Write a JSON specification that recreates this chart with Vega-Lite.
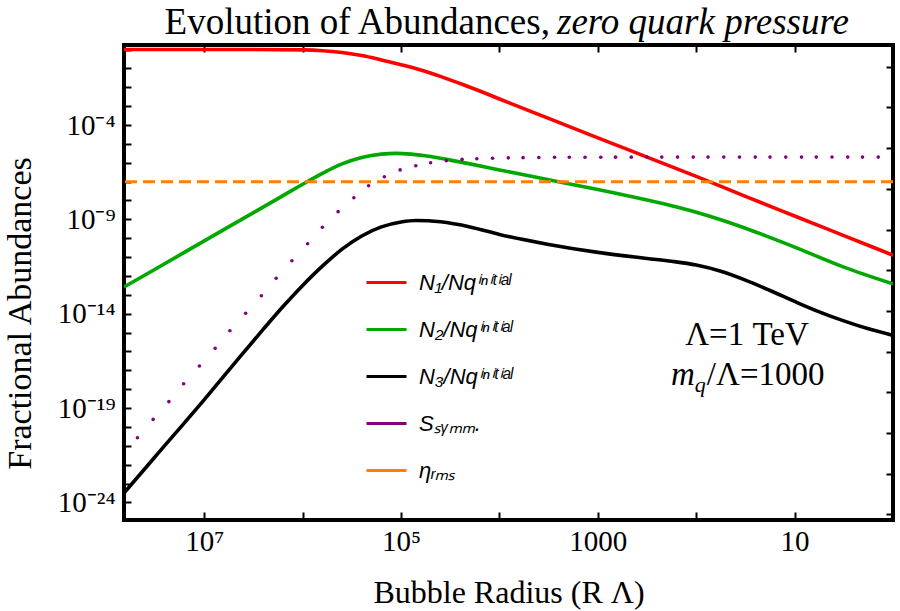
{
  "$schema": "https://vega.github.io/schema/vega-lite/v6.json",
  "width": 769,
  "height": 475,
  "autosize": {"type": "none"},
  "padding": {"left": 124, "top": 45, "right": 7, "bottom": 91},
  "background": "white",
  "config": {
    "view": {"stroke": "black", "strokeWidth": 4},
    "font": "Liberation Serif",
    "axis": {
      "grid": false,
      "domain": false,
      "tickColor": "black",
      "tickWidth": 2,
      "labelFont": "Liberation Serif",
      "labelColor": "black",
      "titleFont": "Liberation Serif",
      "titleColor": "black",
      "titleFontWeight": "normal",
      "labelOverlap": false,
      "labelFlush": false
    }
  },
  "datasets": {
    "lines": [
      {"s": "N1", "R": 6.55e7, "v": 1},
      {"s": "N1", "R": 1e7, "v": 1},
      {"s": "N1", "R": 3.162e6, "v": 0.999},
      {"s": "N1", "R": 1e6, "v": 0.955},
      {"s": "N1", "R": 6.31e5, "v": 0.871},
      {"s": "N1", "R": 3.981e5, "v": 0.692},
      {"s": "N1", "R": 2.512e5, "v": 0.479},
      {"s": "N1", "R": 1.585e5, "v": 0.282},
      {"s": "N1", "R": 1e5, "v": 0.158},
      {"s": "N1", "R": 6.31e4, "v": 0.0832},
      {"s": "N1", "R": 3.981e4, "v": 0.038},
      {"s": "N1", "R": 2.512e4, "v": 0.0158},
      {"s": "N1", "R": 1.585e4, "v": 0.00631},
      {"s": "N1", "R": 1e4, "v": 0.0024},
      {"s": "N1", "R": 3162, "v": 2.24e-4},
      {"s": "N1", "R": 1000, "v": 2.09e-5},
      {"s": "N1", "R": 316.2, "v": 2.0e-6},
      {"s": "N1", "R": 100, "v": 1.91e-7},
      {"s": "N1", "R": 31.62, "v": 1.66e-8},
      {"s": "N1", "R": 10, "v": 1.51e-9},
      {"s": "N1", "R": 3.162, "v": 1.38e-10},
      {"s": "N1", "R": 1, "v": 1.26e-11},
      {"s": "N2", "R": 6.55e7, "v": 2.6e-13},
      {"s": "N2", "R": 3.162e7, "v": 2.29e-12},
      {"s": "N2", "R": 1e7, "v": 7.24e-11},
      {"s": "N2", "R": 3.162e6, "v": 2.29e-9},
      {"s": "N2", "R": 1.585e6, "v": 1.82e-8},
      {"s": "N2", "R": 1e6, "v": 7.24e-8},
      {"s": "N2", "R": 6.31e5, "v": 2.75e-7},
      {"s": "N2", "R": 3.981e5, "v": 8.71e-7},
      {"s": "N2", "R": 2.512e5, "v": 1.91e-6},
      {"s": "N2", "R": 1.585e5, "v": 2.88e-6},
      {"s": "N2", "R": 1.122e5, "v": 3.16e-6},
      {"s": "N2", "R": 7.943e4, "v": 2.88e-6},
      {"s": "N2", "R": 5.012e4, "v": 2.14e-6},
      {"s": "N2", "R": 3.162e4, "v": 1.38e-6},
      {"s": "N2", "R": 1.995e4, "v": 8.71e-7},
      {"s": "N2", "R": 1e4, "v": 4.17e-7},
      {"s": "N2", "R": 3162, "v": 1.26e-7},
      {"s": "N2", "R": 1000, "v": 3.8e-8},
      {"s": "N2", "R": 316.2, "v": 1.05e-8},
      {"s": "N2", "R": 177.8, "v": 5.25e-9},
      {"s": "N2", "R": 100, "v": 2.4e-9},
      {"s": "N2", "R": 56.23, "v": 9.55e-10},
      {"s": "N2", "R": 31.62, "v": 3.39e-10},
      {"s": "N2", "R": 10, "v": 3.39e-11},
      {"s": "N2", "R": 3.162, "v": 2.95e-12},
      {"s": "N2", "R": 1, "v": 3.8e-13},
      {"s": "N3", "R": 6.55e7, "v": 3.16e-24},
      {"s": "N3", "R": 3.162e7, "v": 2.63e-22},
      {"s": "N3", "R": 1e7, "v": 2.82e-19},
      {"s": "N3", "R": 3.981e6, "v": 8.91e-17},
      {"s": "N3", "R": 2.512e6, "v": 1.51e-15},
      {"s": "N3", "R": 1.585e6, "v": 2.4e-14},
      {"s": "N3", "R": 1e6, "v": 3.16e-13},
      {"s": "N3", "R": 6.31e5, "v": 3.31e-12},
      {"s": "N3", "R": 3.981e5, "v": 2.63e-11},
      {"s": "N3", "R": 2.512e5, "v": 1.32e-10},
      {"s": "N3", "R": 1.585e5, "v": 3.98e-10},
      {"s": "N3", "R": 1e5, "v": 7.24e-10},
      {"s": "N3", "R": 7.079e4, "v": 8.71e-10},
      {"s": "N3", "R": 3.981e4, "v": 7.41e-10},
      {"s": "N3", "R": 1.995e4, "v": 3.98e-10},
      {"s": "N3", "R": 1e4, "v": 1.58e-10},
      {"s": "N3", "R": 3162, "v": 4.68e-11},
      {"s": "N3", "R": 1000, "v": 1.78e-11},
      {"s": "N3", "R": 316.2, "v": 8.51e-12},
      {"s": "N3", "R": 177.8, "v": 6.03e-12},
      {"s": "N3", "R": 100, "v": 3.8e-12},
      {"s": "N3", "R": 56.23, "v": 1.78e-12},
      {"s": "N3", "R": 31.62, "v": 6.03e-13},
      {"s": "N3", "R": 17.78, "v": 1.7e-13},
      {"s": "N3", "R": 10, "v": 4.47e-14},
      {"s": "N3", "R": 5.623, "v": 1.26e-14},
      {"s": "N3", "R": 3.162, "v": 4.17e-15},
      {"s": "N3", "R": 1.778, "v": 1.58e-15},
      {"s": "N3", "R": 1, "v": 7.08e-16}
    ],
    "dots": [
      {"s": "S", "R": 4.786e7, "v": 2.69e-21},
      {"s": "S", "R": 3.311e7, "v": 2.51e-20},
      {"s": "S", "R": 2.291e7, "v": 2.19e-19},
      {"s": "S", "R": 1.622e7, "v": 1.95e-18},
      {"s": "S", "R": 1.122e7, "v": 1.7e-17},
      {"s": "S", "R": 7.762e6, "v": 1.48e-16},
      {"s": "S", "R": 5.495e6, "v": 1.26e-15},
      {"s": "S", "R": 3.802e6, "v": 1.05e-14},
      {"s": "S", "R": 2.63e6, "v": 8.91e-14},
      {"s": "S", "R": 1.862e6, "v": 7.59e-13},
      {"s": "S", "R": 1.288e6, "v": 6.46e-12},
      {"s": "S", "R": 8.913e5, "v": 5.13e-11},
      {"s": "S", "R": 6.31e5, "v": 3.8e-10},
      {"s": "S", "R": 4.365e5, "v": 2.57e-9},
      {"s": "S", "R": 3.02e5, "v": 1.41e-8},
      {"s": "S", "R": 2.138e5, "v": 6.03e-8},
      {"s": "S", "R": 1.479e5, "v": 1.82e-7},
      {"s": "S", "R": 1.023e5, "v": 4.17e-7},
      {"s": "S", "R": 7.079e4, "v": 6.92e-7},
      {"s": "S", "R": 5.012e4, "v": 1.0e-6},
      {"s": "S", "R": 3.467e4, "v": 1.29e-6},
      {"s": "S", "R": 2.399e4, "v": 1.51e-6},
      {"s": "S", "R": 1.698e4, "v": 1.62e-6},
      {"s": "S", "R": 1.175e4, "v": 1.74e-6},
      {"s": "S", "R": 8128, "v": 1.82e-6},
      {"s": "S", "R": 5754, "v": 1.86e-6},
      {"s": "S", "R": 3981, "v": 1.91e-6},
      {"s": "S", "R": 2754, "v": 1.95e-6},
      {"s": "S", "R": 1950, "v": 1.95e-6},
      {"s": "S", "R": 1349, "v": 1.97e-6},
      {"s": "S", "R": 933.3, "v": 1.97e-6},
      {"s": "S", "R": 660.7, "v": 1.98e-6},
      {"s": "S", "R": 457.1, "v": 1.98e-6},
      {"s": "S", "R": 316.2, "v": 1.99e-6},
      {"s": "S", "R": 223.9, "v": 2.0e-6},
      {"s": "S", "R": 154.9, "v": 2.0e-6},
      {"s": "S", "R": 107.2, "v": 2.0e-6},
      {"s": "S", "R": 75.86, "v": 2.0e-6},
      {"s": "S", "R": 52.48, "v": 2.0e-6},
      {"s": "S", "R": 36.31, "v": 2.0e-6},
      {"s": "S", "R": 25.12, "v": 2.0e-6},
      {"s": "S", "R": 17.78, "v": 2.0e-6},
      {"s": "S", "R": 12.3, "v": 2.0e-6},
      {"s": "S", "R": 8.511, "v": 2.0e-6},
      {"s": "S", "R": 6.026, "v": 2.0e-6},
      {"s": "S", "R": 4.169, "v": 2.0e-6},
      {"s": "S", "R": 2.884, "v": 2.0e-6},
      {"s": "S", "R": 2.042, "v": 2.0e-6},
      {"s": "S", "R": 1.413, "v": 2.0e-6}
    ],
    "eta": [
      {"s": "eta", "v": 1e-7}
    ]
  },
  "layer": [
    {
      "layer": [
        {
          "data": {"name": "lines"},
          "mark": {"type": "line", "strokeWidth": 3.6, "interpolate": "monotone", "clip": true},
          "encoding": {
            "x": {
              "field": "R", "type": "quantitative",
              "scale": {"type": "log", "domain": [1, 6.55e7], "reverse": true, "nice": false},
              "axis": null
            },
            "y": {
              "field": "v", "type": "quantitative",
              "scale": {"type": "log", "domain": [1.17e-25, 1.74], "nice": false},
              "axis": null
            },
            "color": {
              "field": "s", "type": "nominal",
              "scale": {"domain": ["N1", "N2", "N3", "S", "eta"], "range": ["#ff0000", "#00a800", "#000000", "#800080", "#ff8000"]},
              "legend": {
                "title": null,
                "orient": "none",
                "legendX": 241,
                "legendY": 216,
                "symbolType": "stroke",
                "symbolSize": 1600,
                "symbolStrokeWidth": 3,
                "labelFont": "Liberation Sans",
                "labelFontSize": 22,
                "labelFontStyle": "italic",
                "labelColor": "black",
                "labelOffset": 11,
                "labelLimit": 300,
                "rowPadding": 14,
                "labelExpr": "datum.value == 'N1' ? 'N₁/Nqⁱⁿⁱᵗⁱᵃˡ' : datum.value == 'N2' ? 'N₂/Nqⁱⁿⁱᵗⁱᵃˡ' : datum.value == 'N3' ? 'N₃/Nqⁱⁿⁱᵗⁱᵃˡ' : datum.value == 'S' ? 'Sₛᵧₘₘ.' : 'ηᵣₘₛ'"
              }
            }
          }
        },
        {
          "data": {"name": "dots"},
          "mark": {"type": "circle", "size": 13, "opacity": 1},
          "encoding": {
            "x": {"field": "R", "type": "quantitative", "axis": null},
            "y": {"field": "v", "type": "quantitative", "axis": null},
            "color": {"field": "s", "type": "nominal", "legend": null}
          }
        },
        {
          "data": {"name": "eta"},
          "mark": {"type": "rule", "strokeDash": [12, 6], "strokeWidth": 3},
          "encoding": {
            "y": {"field": "v", "type": "quantitative", "axis": null},
            "color": {"field": "s", "type": "nominal", "legend": null}
          }
        },
        {
          "data": {"values": [{}]},
          "mark": {"type": "text", "text": "Evolution of Abundances,", "font": "Liberation Serif", "fontSize": 37, "align": "right", "baseline": "alphabetic", "color": "black"},
          "encoding": {
            "x": {"datum": 3069, "type": "quantitative", "axis": null},
            "y": {"datum": 7.06, "type": "quantitative", "axis": null}
          }
        },
        {
          "data": {"values": [{}]},
          "mark": {"type": "text", "text": "zero quark pressure", "font": "Liberation Serif", "fontSize": 37, "fontStyle": "italic", "align": "left", "baseline": "alphabetic", "color": "black"},
          "encoding": {
            "x": {"datum": 2600, "type": "quantitative", "axis": null},
            "y": {"datum": 7.06, "type": "quantitative", "axis": null}
          }
        },
        {
          "data": {"values": [{}]},
          "mark": {"type": "text", "text": "Λ=1 TeV", "font": "Liberation Serif", "fontSize": 33, "align": "center", "baseline": "alphabetic", "color": "black"},
          "encoding": {
            "x": {"datum": 30.5, "type": "quantitative", "axis": null},
            "y": {"datum": 2.19e-16, "type": "quantitative", "axis": null}
          }
        },
        {
          "data": {"values": [{}]},
          "mark": {"type": "text", "text": "m", "font": "Liberation Serif", "fontSize": 33, "fontStyle": "italic", "align": "right", "baseline": "alphabetic", "dx": -12, "color": "black"},
          "encoding": {
            "x": {"datum": 78, "type": "quantitative", "axis": null},
            "y": {"datum": 1.66e-18, "type": "quantitative", "axis": null}
          }
        },
        {
          "data": {"values": [{}]},
          "mark": {"type": "text", "text": "q", "font": "Liberation Serif", "fontSize": 22, "fontStyle": "italic", "align": "right", "baseline": "alphabetic", "dx": -1, "dy": 7, "color": "black"},
          "encoding": {
            "x": {"datum": 78, "type": "quantitative", "axis": null},
            "y": {"datum": 1.66e-18, "type": "quantitative", "axis": null}
          }
        },
        {
          "data": {"values": [{}]},
          "mark": {"type": "text", "text": "/Λ=1000", "font": "Liberation Serif", "fontSize": 33, "align": "left", "baseline": "alphabetic", "color": "black"},
          "encoding": {
            "x": {"datum": 78, "type": "quantitative", "axis": null},
            "y": {"datum": 1.66e-18, "type": "quantitative", "axis": null}
          }
        }
      ]
    },
    {
      "data": {"name": "dots"},
      "mark": {"type": "point", "opacity": 0},
      "encoding": {
        "x": {
          "field": "R", "type": "quantitative",
          "scale": {"type": "log", "domain": [1, 6.55e7], "reverse": true, "nice": false},
          "axis": {
            "orient": "bottom",
            "values": [10, 100, 1000, 10000, 100000, 1000000, 10000000],
            "labelExpr": "round(log(datum.value)/LN10) == 7 ? '10⁷' : round(log(datum.value)/LN10) == 5 ? '10⁵' : round(log(datum.value)/LN10) == 3 ? '1000' : round(log(datum.value)/LN10) == 1 ? '10' : ''",
            "tickSize": -8,
            "labelPadding": 15,
            "labelFontSize": 29,
            "title": "Bubble Radius (R Λ)",
            "titleFontSize": 32,
            "titleBaseline": "alphabetic",
            "titleY": 82
          }
        },
        "y": {
          "field": "v", "type": "quantitative",
          "scale": {"type": "log", "domain": [1.17e-25, 1.74], "nice": false},
          "axis": {
            "orient": "left",
            "values": [1e-24, 1e-23, 1e-22, 1e-21, 1e-20, 1e-19, 1e-18, 1e-17, 1e-16, 1e-15, 1e-14, 1e-13, 1e-12, 1e-11, 1e-10, 1e-9, 1e-8, 1e-7, 1e-6, 1e-5, 1e-4, 1e-3, 1e-2, 1e-1, 1],
            "labelExpr": "round(log(datum.value)/LN10) == -4 ? '10⁻⁴' : round(log(datum.value)/LN10) == -9 ? '10⁻⁹' : round(log(datum.value)/LN10) == -14 ? '10⁻¹⁴' : round(log(datum.value)/LN10) == -19 ? '10⁻¹⁹' : round(log(datum.value)/LN10) == -24 ? '10⁻²⁴' : ''",
            "tickSize": -7,
            "labelPadding": 16,
            "labelFontSize": 29,
            "title": "Fractional Abundances",
            "titleFontSize": 34,
            "titleAngle": 270,
            "titleAlign": "center",
            "titleBaseline": "alphabetic",
            "titleX": -94,
            "titleY": 268
          }
        }
      }
    },
    {
      "data": {"name": "dots"},
      "mark": {"type": "point", "opacity": 0},
      "encoding": {
        "x": {
          "field": "R", "type": "quantitative",
          "scale": {"type": "log", "domain": [1, 6.55e7], "reverse": true, "nice": false},
          "axis": {"orient": "top", "values": [10, 100, 1000, 10000, 100000, 1000000, 10000000], "labels": false, "tickSize": -7, "title": null}
        },
        "y": {
          "field": "v", "type": "quantitative",
          "scale": {"type": "log", "domain": [1.17e-25, 1.74], "nice": false},
          "axis": {"orient": "right", "values": [0.123, 8.51e-4, 6.03e-6, 4.17e-8, 2.88e-10, 2.04e-12, 1.41e-14, 9.77e-17, 6.76e-19, 4.79e-21, 3.31e-23, 2.29e-25], "labels": false, "tickSize": -7, "title": null}
        }
      }
    }
  ],
  "resolve": {"scale": {"x": "independent", "y": "independent"}}
}
